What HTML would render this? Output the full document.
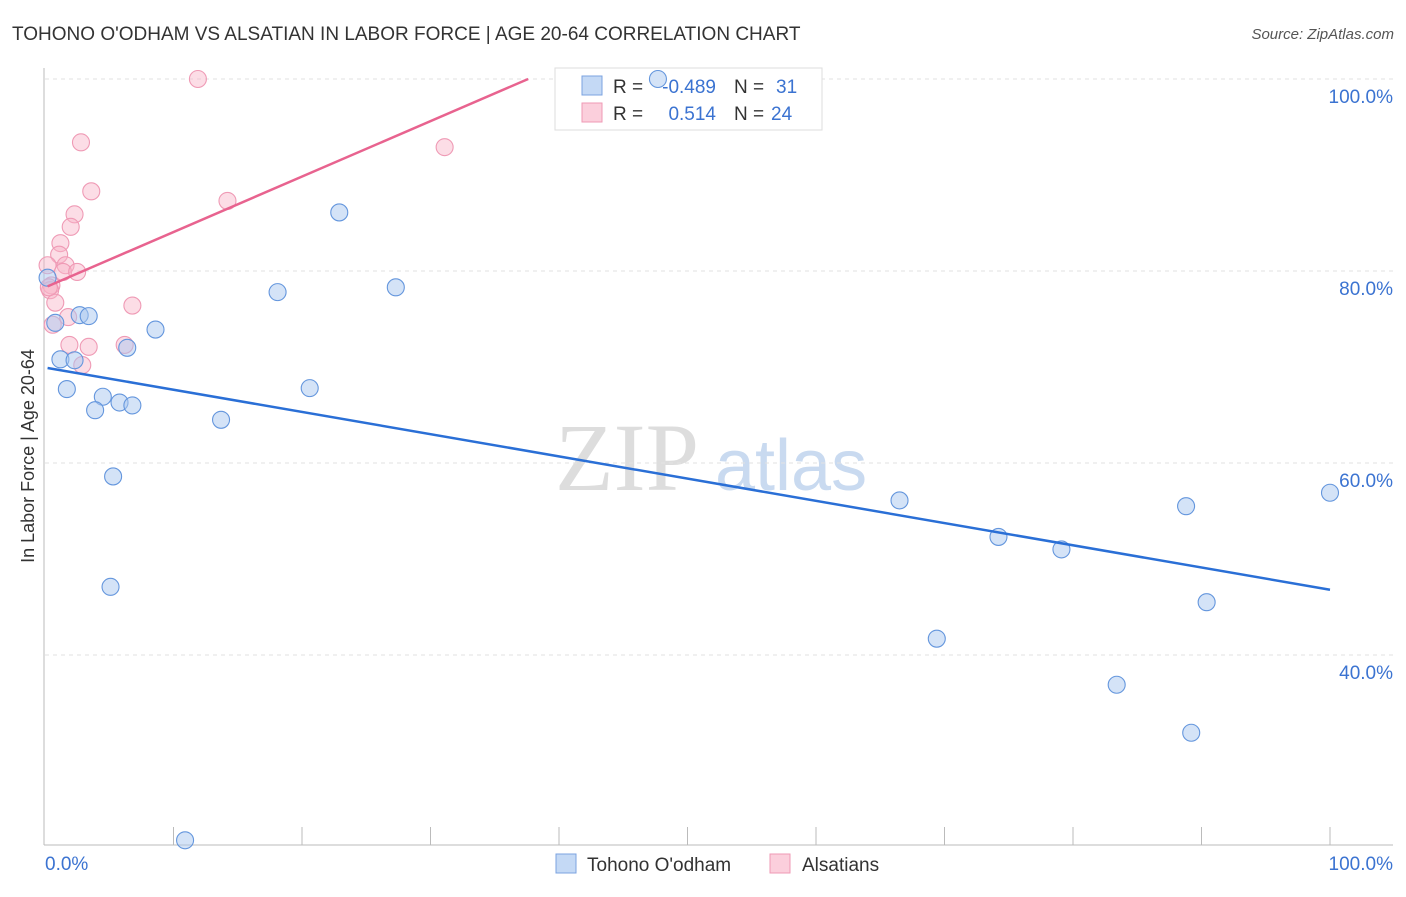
<!DOCTYPE html>
<html><head><meta charset="utf-8"><style>
body{margin:0;background:#fff;font-family:"Liberation Sans",sans-serif;}
</style></head><body>
<svg id="c" width="1406" height="892" viewBox="0 0 1406 892" xmlns="http://www.w3.org/2000/svg" font-family="Liberation Sans, sans-serif">
<text x="12" y="40" font-size="19" fill="#333">TOHONO O'ODHAM VS ALSATIAN IN LABOR FORCE | AGE 20-64 CORRELATION CHART</text>
<text x="1394" y="39" font-size="15" fill="#555" font-style="italic" text-anchor="end">Source: ZipAtlas.com</text>
<text x="555" y="490" font-size="96" fill="#ddd" font-family="Liberation Serif, serif">ZIP</text>
<text x="715" y="490" font-size="72" fill="#c9daf0">atlas</text>
<g id="grid"></g>
<line x1="44" y1="68" x2="44" y2="845" stroke="#bbb"/>
<line x1="44" y1="845" x2="1393" y2="845" stroke="#bbb"/>
<g>
<rect x="555" y="68" width="267" height="62" fill="#fff" stroke="#ddd"/>
<rect x="582" y="76" width="20" height="19" fill="#c4d9f5" stroke="#7ba3e0"/>
<rect x="582" y="103" width="20" height="19" fill="#fbcfdc" stroke="#ef9ab5"/>
<text x="613" y="93" font-size="19" fill="#333">R =</text>
<text x="716" y="93" font-size="19" fill="#3b73d1" text-anchor="end">-0.489</text>
<text x="734" y="93" font-size="19" fill="#333">N =</text>
<text x="776" y="93" font-size="19" fill="#3b73d1">31</text>
<text x="613" y="120" font-size="19" fill="#333">R =</text>
<text x="716" y="120" font-size="19" fill="#3b73d1" text-anchor="end">0.514</text>
<text x="734" y="120" font-size="19" fill="#333">N =</text>
<text x="771" y="120" font-size="19" fill="#3b73d1">24</text>
</g>
<g id="marks"></g>
<text x="34" y="456" font-size="18" fill="#333" text-anchor="middle" transform="rotate(-90 34 456)">In Labor Force | Age 20-64</text>
<text x="45" y="870" font-size="19" fill="#3b73d1">0.0%</text>
<text x="1393" y="870" font-size="19" fill="#3b73d1" text-anchor="end">100.0%</text>
<g>
<rect x="556" y="854" width="20" height="19" fill="#c4d9f5" stroke="#7ba3e0"/>
<text x="587" y="871" font-size="19" fill="#333">Tohono O'odham</text>
<rect x="770" y="854" width="20" height="19" fill="#fbcfdc" stroke="#ef9ab5"/>
<text x="802" y="871" font-size="19" fill="#333">Alsatians</text>
</g>
</svg>
<script>
const yTicks=[100,80,60,40];
const xTickVals=[10,20,30,40,50,60,70,80,90,100];
const blueX=[0.2,0.8,1.2,2.3,1.7,2.7,3.4,4.5,3.9,5.8,6.8,6.4,8.6,5.3,5.1,10.9,13.7,18.1,20.6,22.9,27.3,47.7,66.5,69.4,74.2,79.1,83.4,88.8,89.2,90.4,100];
const blueY=[79.3,74.6,70.8,70.7,67.7,75.4,75.3,66.9,65.5,66.3,66.0,72.0,73.9,58.6,47.1,20.7,64.5,77.8,67.8,86.1,78.3,100,56.1,41.7,52.3,51.0,36.9,55.5,31.9,45.5,56.9];
const pinkX=[11.9,2.8,3.6,2.3,2.0,1.2,1.1,1.6,1.4,2.5,0.5,0.4,0.8,6.8,1.8,0.6,1.9,3.4,6.2,2.9,14.2,31.1,0.2,0.3];
const pinkY=[100,93.4,88.3,85.9,84.6,82.9,81.7,80.6,79.9,79.9,78.5,78.0,76.7,76.4,75.2,74.4,72.3,72.1,72.3,70.2,87.3,92.9,80.6,78.3];
const blueTrend=[0.2,69.9,100,46.8];
const pinkTrend=[0.2,78.4,37.6,100];
const X=v=>45+v*12.85, Y=v=>79+(100-v)*9.6;
const NS="http://www.w3.org/2000/svg";
const grid=document.getElementById('grid'), marks=document.getElementById('marks');
function mk(tag,attrs,parent){const e=document.createElementNS(NS,tag);for(const k in attrs)e.setAttribute(k,attrs[k]);parent.appendChild(e);return e;}
yTicks.forEach(t=>{
 const l=mk('line',{x1:45,x2:1393,y1:Y(t),y2:Y(t),stroke:'#e2e2e2','stroke-dasharray':'4 4'},grid);
 
 
 const tx=mk('text',{x:1393,y:Y(t)+24,'font-size':19,fill:'#3b73d1','text-anchor':'end'},grid);
 tx.textContent=t.toFixed(1)+'%';
 
 
});
xTickVals.forEach(t=>{
 const l=mk('line',{x1:X(t),x2:X(t),y1:827,y2:845,stroke:'#bbb'},grid);
 
 
});
function dots(xs,ys,fill,stroke,name){xs.forEach((x,i)=>{
 const c=mk('circle',{cx:X(x),cy:Y(ys[i]),r:8.5,fill:fill,stroke:stroke,'stroke-width':1.1},marks);
 
 
});}
dots(pinkX,pinkY,'rgba(248,180,200,0.45)','#ef9ab5','alsatian-point');
dots(blueX,blueY,'rgba(170,200,240,0.5)','#6496dd','tohono-point');
const bl=mk('line',{x1:X(blueTrend[0]),y1:Y(blueTrend[1]),x2:X(blueTrend[2]),y2:Y(blueTrend[3]),stroke:'#2a6fd6','stroke-width':2.5},marks);


const pl=mk('line',{x1:X(pinkTrend[0]),y1:Y(pinkTrend[1]),x2:X(pinkTrend[2]),y2:Y(pinkTrend[3]),stroke:'#e8638f','stroke-width':2.5},marks);


</script>
</body></html>
